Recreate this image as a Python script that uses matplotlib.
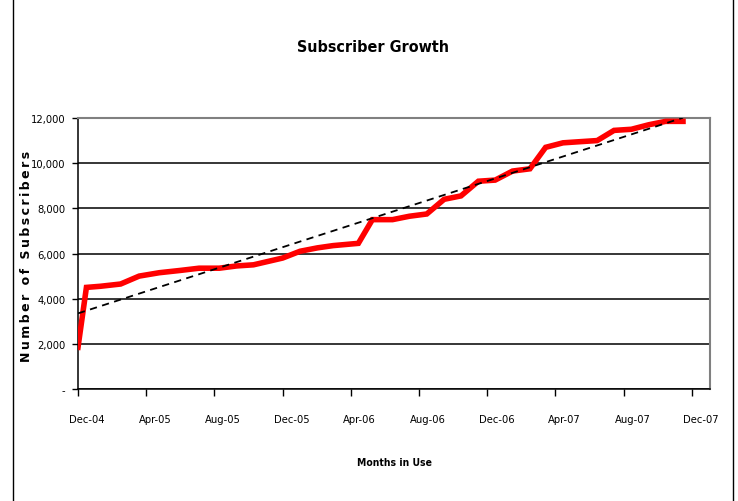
import numpy as np
import pandas as pd
import matplotlib
matplotlib.use("Agg")
import matplotlib.pyplot as plt
import matplotlib.dates as mdates
import matplotlib.transforms as mtransforms
from matplotlib.lines import Line2D

# subscriber counts
dates = ["2004-12-01", "2004-12-16", "2005-01-10", "2005-02-15", "2005-03-20",
         "2005-04-25", "2005-06-01", "2005-07-05", "2005-08-10", "2005-09-10",
         "2005-10-10", "2005-11-05", "2005-12-01", "2006-01-01", "2006-02-01",
         "2006-03-01", "2006-04-15", "2006-05-10", "2006-06-15", "2006-07-15",
         "2006-08-15", "2006-09-15", "2006-10-15", "2006-11-15", "2006-12-15",
         "2007-01-15", "2007-02-15", "2007-03-15", "2007-04-15", "2007-05-15",
         "2007-06-15", "2007-07-15", "2007-08-15", "2007-09-15", "2007-10-15",
         "2007-11-15"]
subscribers = [1850, 4500, 4550, 4650, 5000,
               5150, 5250, 5350, 5350, 5450,
               5500, 5650, 5800, 6100, 6250,
               6350, 6450, 7500, 7500, 7650,
               7750, 8400, 8550, 9200, 9250,
               9650, 9750, 10700, 10900, 10950,
               11000, 11450, 11500, 11700, 11850,
               11850]
tick_dates = ["2004-12-01", "2005-04-01", "2005-08-01", "2005-12-01", "2006-04-01",
              "2006-08-01", "2006-12-01", "2007-04-01", "2007-08-01", "2007-12-01"]
tick_labels = ["Dec-04", "Apr-05", "Aug-05", "Dec-05", "Apr-06",
               "Aug-06", "Dec-06", "Apr-07", "Aug-07", "Dec-07"]
yticks = [0, 2000, 4000, 6000, 8000, 10000, 12000]
ylabels = ["-", "2,000", "4,000", "6,000", "8,000", "10,000", "12,000"]

narrow = ["DejaVu Sans"]

x = mdates.date2num(pd.to_datetime(dates))
y = np.array(subscribers)

fig = plt.figure(figsize=(7.38, 5.02), dpi=100)
ax = fig.add_axes([0.1057, 0.223, 0.857, 0.540])

ax.plot(x, y, color="#ff0000", lw=4, solid_joinstyle="miter", zorder=3)
# linear trendline
k, b = np.polyfit(x, y, 1)
ax.plot(x, k * x + b, color="black", lw=1.3, ls=(0, (4, 3)), zorder=4)

ax.set_ylim(0, 12000)
ax.set_xlim(mdates.date2num(pd.Timestamp("2004-12-01")),
            mdates.date2num(pd.Timestamp("2008-01-03")))
ax.set_yticks(yticks)
ax.set_yticklabels(ylabels, family=narrow, stretch="condensed", fontsize=8)
ax.set_xticks(mdates.date2num(pd.to_datetime(tick_dates)))
ax.set_xticklabels(tick_labels, family=narrow, stretch="condensed", fontsize=8)
ax.tick_params(axis="x", length=5, width=1, pad=13)
ax.tick_params(axis="y", length=4, width=1, pad=5)
shift = mtransforms.ScaledTranslation(0.09, 0, fig.dpi_scale_trans)
for lab in ax.get_xticklabels():
    lab.set_transform(lab.get_transform() + shift)
ax.grid(axis="y", color="black", lw=1.1)
ax.set_axisbelow(True)

for s in ["top", "right"]:
    ax.spines[s].set_color("#808080")
    ax.spines[s].set_linewidth(1.5)
for s in ["left", "bottom"]:
    ax.spines[s].set_color("black")
    ax.spines[s].set_linewidth(1.1)

fig.text(0.505, 0.905, "Subscriber Growth", ha="center", va="center",
         family=narrow, stretch="condensed", fontsize=11.5, fontweight="bold")
fig.text(0.535, 0.078, "Months in Use", ha="center", va="center",
         family=narrow, stretch="condensed", fontsize=7.5, fontweight="bold")
fig.text(0.036, 0.49, "\u2009".join("Number of Subscribers"),
         rotation=90, ha="center", va="center", family=["DejaVu Sans"],
         fontsize=9, fontweight="bold")

# outer frame lines
fig.add_artist(Line2D([0.018, 0.018], [0, 1], color="black", lw=1))
fig.add_artist(Line2D([0.993, 0.993], [0, 1], color="black", lw=1))

fig.savefig("out.png", dpi=100)
